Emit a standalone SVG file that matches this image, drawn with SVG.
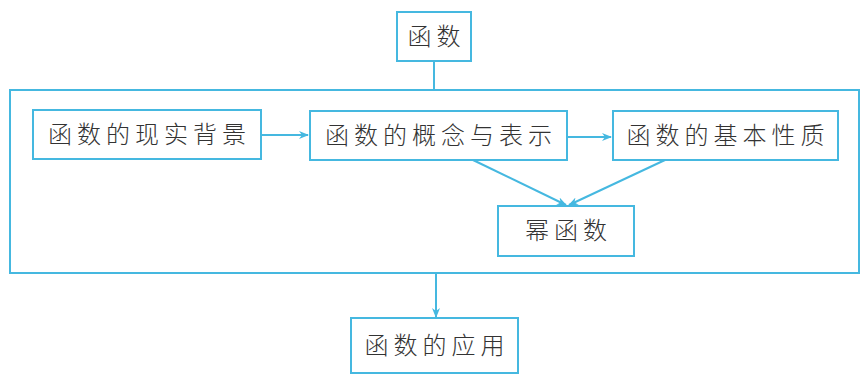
<svg xmlns="http://www.w3.org/2000/svg" width="862" height="375" viewBox="0 0 862 375">
<defs>
<style>
.box{fill:#fff;stroke:#45b8e0;stroke-width:2}
.frame{fill:none;stroke:#45b8e0;stroke-width:2}
.ln{fill:none;stroke:#45b8e0;stroke-width:2}
.t{font-family:"Noto Sans CJK SC","Noto Sans",sans-serif;font-size:24px;fill:#333;text-anchor:middle;letter-spacing:5px;font-weight:300}
</style>
<marker id="ah" viewBox="0 0 10 10" refX="9" refY="5" markerWidth="5" markerHeight="5" orient="auto" markerUnits="strokeWidth">
<path d="M0,1 L10,5 L0,9 L3,5 Z" fill="#45b8e0"/>
</marker>
</defs>
<rect width="862" height="375" fill="#fff"/>
<rect class="frame" x="10" y="90" width="849" height="183"/>
<g id="connectors">
<line class="ln" x1="434" y1="61" x2="434" y2="90"/>
<line class="ln" x1="261" y1="135" x2="308" y2="135" marker-end="url(#ah)"/>
<line class="ln" x1="567" y1="137" x2="611" y2="137" marker-end="url(#ah)"/>
<line class="ln" x1="473" y1="160" x2="566" y2="205" marker-end="url(#ah)"/>
<line class="ln" x1="665" y1="160" x2="569" y2="205" marker-end="url(#ah)"/>
<line class="ln" x1="436" y1="273" x2="436" y2="317" marker-end="url(#ah)"/>
</g>
<g id="n-hanshu">
<rect class="box" x="397" y="12" width="74" height="49"/>
<text class="t" x="436.5" y="45">函数</text>
</g>
<g id="n-beijing">
<rect class="box" x="33" y="110" width="228" height="49"/>
<text class="t" x="149.5" y="143">函数的现实背景</text>
</g>
<g id="n-gainian">
<rect class="box" x="310" y="111" width="257" height="49"/>
<text class="t" x="441" y="144">函数的概念与表示</text>
</g>
<g id="n-xingzhi">
<rect class="box" x="613" y="111" width="225" height="49"/>
<text class="t" x="728" y="144">函数的基本性质</text>
</g>
<g id="n-mi">
<rect class="box" x="498" y="206" width="136" height="50"/>
<text class="t" x="568.5" y="239">幂函数</text>
</g>
<g id="n-yingyong">
<rect class="box" x="351" y="318" width="167" height="55"/>
<text class="t" x="437" y="354">函数的应用</text>
</g>
</svg>
